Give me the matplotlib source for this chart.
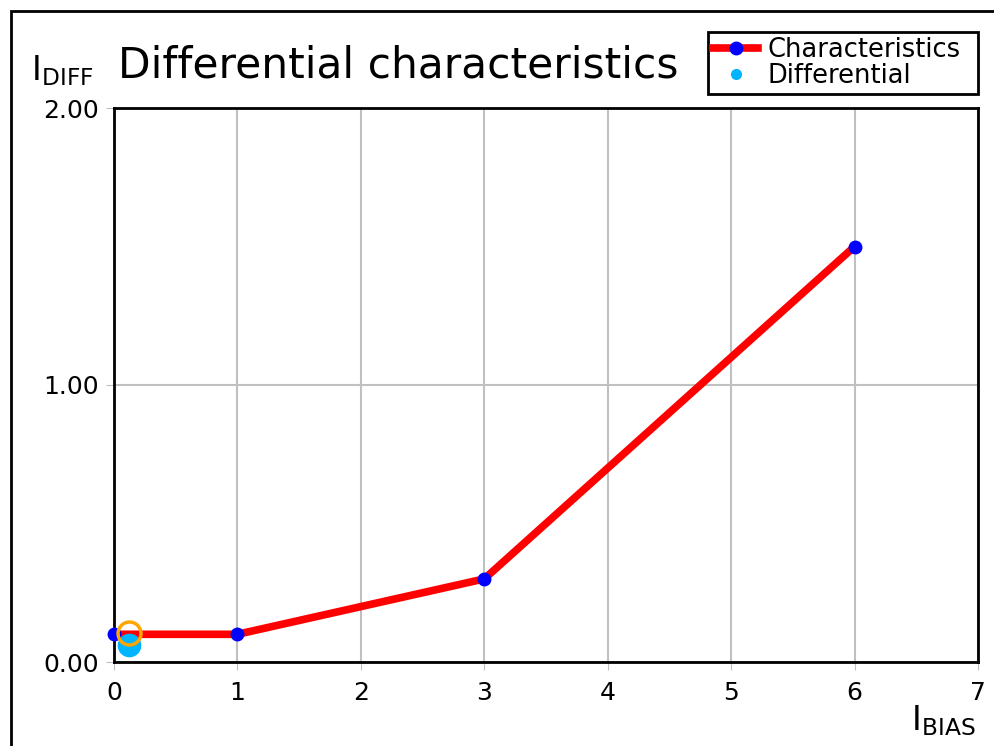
import matplotlib
matplotlib.use("Agg")
from matplotlib import pyplot as plt
from matplotlib.lines import Line2D
from matplotlib.patches import Rectangle
from matplotlib.ticker import FormatStrFormatter

# characteristic curve
char_x = [0, 1, 3, 6]
char_y = [0.1, 0.1, 0.3, 1.5]

# differential measurement point
diff_x = [0.12]
diff_y = [0.06]

# operating point marker (hollow orange)
op_x = [0.12]
op_y = [0.105]

x_ticks = [0, 1, 2, 3, 4, 5, 6, 7]
y_ticks = [0.0, 1.0, 2.0]

fig = plt.figure(figsize=(9.94, 7.46), dpi=100)
ax = fig.add_axes([114 / 994, 1 - 662 / 746, 864 / 994, 554 / 746])

# frame round the figure (only left and top visible in the reference)
fig.patches.append(
    Rectangle((11 / 994, -0.1), 1.2, 1.1 - 11 / 746,
              transform=fig.transFigure, fill=False, edgecolor="black",
              linewidth=2, zorder=0)
)

ax.plot(char_x, char_y, color="red", linewidth=5.5, marker="o",
        markersize=9, markerfacecolor="blue", markeredgecolor="blue",
        clip_on=False, zorder=3)
ax.plot(diff_x, diff_y, linestyle="none", marker="o", markersize=16,
        color="#00b4ff", zorder=4)
ax.plot(op_x, op_y, linestyle="none", marker="o", markersize=16.5,
        markerfacecolor="none", markeredgecolor="orange",
        markeredgewidth=2.5, zorder=5)

ax.set_xlim(0, 7)
ax.set_ylim(0, 2)
ax.set_xticks(x_ticks)
ax.set_yticks(y_ticks)
ax.yaxis.set_major_formatter(FormatStrFormatter("%.2f"))
ax.grid(True, color="#c0c0c0", linewidth=1.5)
ax.set_axisbelow(True)
ax.tick_params(labelsize=18, length=6, color="#c0c0c0", pad=5)
ax.tick_params(axis="x", pad=8)
for s in ax.spines.values():
    s.set_linewidth(2)

fig.text(118 / 994, 1 - 78 / 746, "Differential characteristics",
         fontsize=30.5, ha="left", va="baseline")
fig.text(31 / 994, 1 - 80 / 746, r"$\mathregular{I_{DIFF}}$",
         fontsize=24, ha="left", va="baseline")
fig.text(911 / 994, 1 - 730 / 746, r"$\mathregular{I_{BIAS}}$",
         fontsize=24, ha="left", va="baseline")

handles = [
    Line2D([], [], color="red", linewidth=5.5, marker="o", markersize=9,
           markerfacecolor="blue", markeredgecolor="blue"),
    Line2D([], [], linestyle="none", marker="o", markersize=7,
           color="#00b4ff"),
]
leg = ax.legend(handles, ["Characteristics", "Differential"],
                loc="upper left", mode="expand",
                bbox_to_anchor=(708 / 994, 1 - 95 / 746, 270 / 994, 63 / 746),
                bbox_transform=fig.transFigure, fontsize=18.5, fancybox=False,
                framealpha=1, edgecolor="black", handlelength=1.75,
                handletextpad=0.35, borderpad=0.2, labelspacing=0.0,
                borderaxespad=0)
leg.get_frame().set_linewidth(2)

plt.savefig("out.png", dpi=100)
